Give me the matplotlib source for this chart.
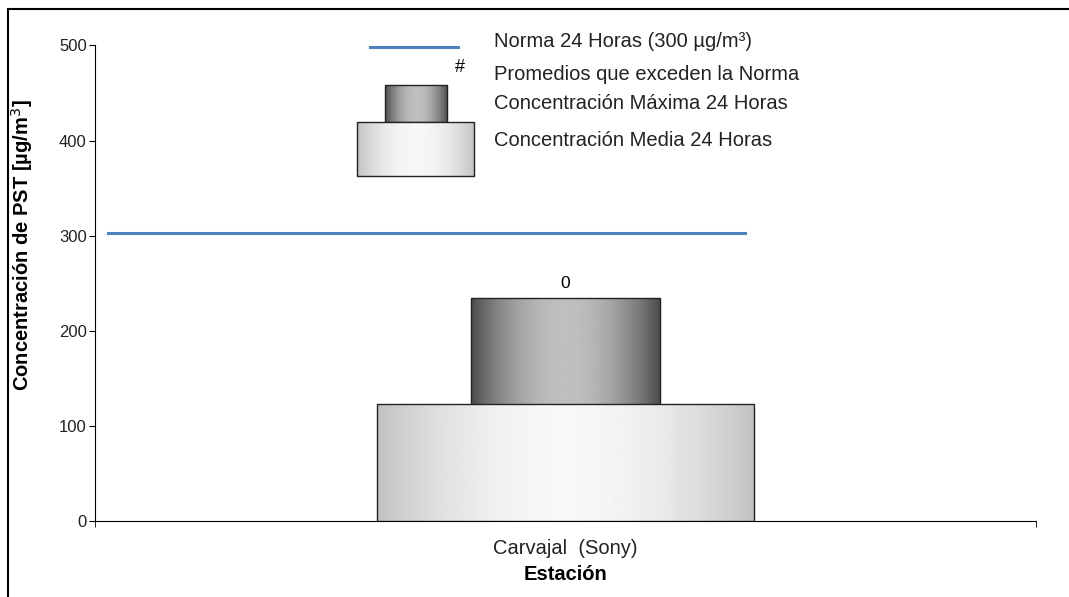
import numpy as np
import matplotlib.pyplot as plt
from matplotlib.patches import Rectangle

plt.rcParams['font.family'] = ['Liberation Sans', 'DejaVu Sans']

estaciones = ['Carvajal  (Sony)']
media_24h = [123]
maxima_24h = [234]
excedencias = [0]
norma = 303

def gradient_bar(ax, x0, x1, y0, y1, edge, center, z):
    # sombreado horizontal: bordes oscuros, centro claro
    rect = Rectangle((x0, y0), x1 - x0, y1 - y0, facecolor='none',
                     edgecolor='#222222', linewidth=1.0, zorder=z + 0.5)
    ax.add_patch(rect)
    t = np.linspace(-1, 1, 256)
    g = edge + (center - edge) * (1 - t**2)
    img = ax.imshow(np.tile(g, (2, 1)), cmap='gray', vmin=0, vmax=1,
                    extent=[x0, x1, y0, y1], aspect='auto', zorder=z,
                    interpolation='bilinear')
    img.set_clip_path(rect)

fig = plt.figure(figsize=(10.69, 5.97), dpi=100)
ax = fig.add_axes([95/1069, 1 - 521/597, (1036 - 95)/1069, (521 - 45.5)/597])

for i, est in enumerate(estaciones):
    gradient_bar(ax, i - 0.1, i + 0.1, 0, maxima_24h[i], 0.30, 0.75, 3)
    gradient_bar(ax, i - 0.2, i + 0.2, 0, media_24h[i], 0.76, 0.97, 4)
    ax.text(i, maxima_24h[i] + 8, str(excedencias[i]), ha='center',
            va='bottom', fontsize=12.5)

ax.plot([-0.486, 0.191], [norma, norma], color='#4f81bd', lw=2.2, zorder=5)

# leyenda dibujada a mano
ax.plot([-0.208, -0.114], [498, 498], color='#4f81bd', lw=2.2, zorder=5)
ax.text(-0.112, 477, '#', ha='center', va='center', fontsize=13)
gradient_bar(ax, -0.192, -0.126, 419.6, 458.5, 0.30, 0.75, 3)
gradient_bar(ax, -0.222, -0.097, 362.8, 419.6, 0.76, 0.97, 4)
leyenda = ['Norma 24 Horas (300 µg/m³)', 'Promedios que exceden la Norma',
           'Concentración Máxima 24 Horas', 'Concentración Media 24 Horas']
for txt, yy in zip(leyenda, [503.7, 470, 438.5, 400.6]):
    ax.text(-0.076, yy, txt, ha='left', va='center', fontsize=14.5,
            color='#222222')

ax.set_xlim(-0.5, 0.5)
ax.set_ylim(0, 500)
ax.set_yticks([0, 100, 200, 300, 400, 500])
ax.set_xticks([-0.5, 0.5], minor=True)
ax.set_xticks([0])
ax.set_xticklabels(estaciones, fontsize=14.5, color='#222222')
ax.tick_params(axis='x', which='major', length=0, pad=13)
ax.tick_params(axis='x', which='minor', length=4.5, direction='out')
ax.tick_params(axis='y', length=4.5, direction='out', labelsize=12, pad=1.5,
               labelcolor='#222222')
ax.spines['top'].set_visible(False)
ax.spines['right'].set_visible(False)
ax.set_xlabel('Estación', fontsize=14.5, fontweight='bold', labelpad=5)
ax.set_ylabel('Concentración de PST [µg/m$^3$]', fontsize=14.5,
              fontweight='bold')
ax.yaxis.set_label_coords(-0.064, 0.58)

fig.patches.append(Rectangle((8/1069, -0.1), 1.2, 1.1 - 9/597,
                             transform=fig.transFigure, fill=False,
                             edgecolor='black', lw=1.5))

fig.savefig('out.png', dpi=100)
